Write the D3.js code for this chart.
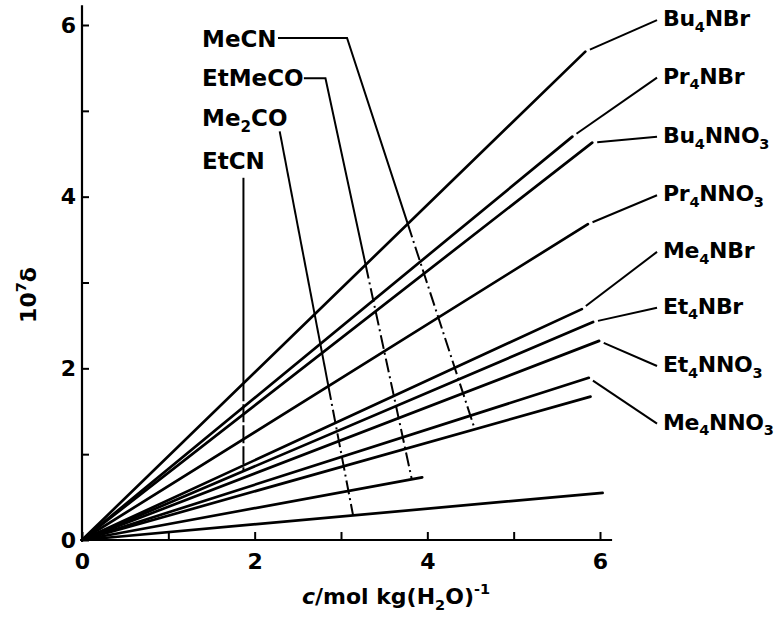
<!DOCTYPE html>
<html>
<head>
<meta charset="utf-8">
<script src="https://cdn.jsdelivr.net/npm/d3@7"></script>
<style>
  body { margin: 0; background: #fff; }
  text { font-family: "DejaVu Sans", sans-serif; font-weight: bold; fill: #000; }
</style>
</head>
<body>
<svg id="canvas"></svg>
<script>
let width = 779
let height = 619

// electrolyte lines (end point of each straight line from the origin)
let saltNames  = ['Bu_4NBr', 'Pr_4NBr', 'Bu_4NNO_3', 'Pr_4NNO_3', 'Me_4NBr', 'Et_4NBr', 'Et_4NNO_3', 'Me_4NNO_3', '', '', '']
let saltEndX   = [5.83, 5.68, 5.91, 5.86, 5.79, 5.92, 5.99, 5.87, 5.89, 6.03, 3.94]
let saltEndY   = [5.69, 4.70, 4.63, 3.68, 2.69, 2.54, 2.32, 1.89, 1.67, 0.55, 0.73]
let saltLabelY = [6.08, 5.41, 4.72, 4.04, 3.38, 2.73, 2.05, 1.38]
let saltLabelX = 6.73

// solvent lines
let solventNames  = ['MeCN', 'EtMeCO', 'Me_2CO', 'EtCN']
let solventLabelY = [5.84, 5.38, 4.92, 4.42]
let solventLabelX = 1.39
let solventStartX = [2.27, 2.57, 2.29, 1.87]
let solventStartY = [5.85, 5.38, 4.76, 4.22]
let solventElbowX = [3.07, 2.82, null, null]
let solventEndX   = [4.55, 3.82, 3.14, 1.87]
let solventEndOn  = [8, 10, 9, 5]   // index of the electrolyte line it ends on
let solventDashFrom = [0, 0, 3, 0]  // electrolyte line where the dashes begin

let tickValues = [0, 1, 2, 3, 4, 5, 6]

let canvas = d3.select('#canvas')
               .attr('width', width)
               .attr('height', height)

let xScale = d3.scaleLinear().domain([0, 6]).range([82, 600])
let yScale = d3.scaleLinear().domain([0, 6]).range([540, 25])

let line = d3.line()
             .x(d => xScale(d[0]))
             .y(d => yScale(d[1]))

// text with _x subscripts and ^x superscripts
let richText = (sel, str, size) => {
  let parts = str.split(/(_\d|\^-?\d)/).filter(p => p !== '')
  let shift = 0
  parts.forEach(p => {
    let target = 0
    let fs = size
    let t = p
    if (p[0] === '_') { target = size * 0.26; fs = size * 0.66; t = p.slice(1) }
    if (p[0] === '^') { target = -size * 0.45; fs = size * 0.66; t = p.slice(1) }
    sel.append('tspan')
       .attr('font-size', fs)
       .attr('dy', target - shift)
       .text(t)
    shift = target
  })
}

let drawAxes = () => {
  let xAxis = d3.axisBottom(xScale)
                .tickValues(tickValues)
                .tickSize(-8)
                .tickPadding(13)
                .tickFormat(d => d % 2 === 0 ? d : '')

  let yAxis = d3.axisLeft(yScale)
                .tickValues(tickValues)
                .tickSize(-7)
                .tickPadding(6)
                .tickFormat(d => d % 2 === 0 ? d : '')

  let gx = canvas.append('g')
        .attr('transform', `translate(0, ${yScale(0)})`)
        .call(xAxis)
  let gy = canvas.append('g')
        .attr('transform', `translate(${xScale(0)}, 0)`)
        .call(yAxis)

  ;[gx, gy].forEach(g => {
    g.select('.domain').remove()
    g.selectAll('line').attr('stroke', '#000').attr('stroke-width', 2)
    g.selectAll('text')
     .attr('font-family', '"DejaVu Sans", sans-serif')
     .attr('font-weight', 'bold')
     .attr('font-size', 22)
  })

  canvas.append('line')
        .attr('x1', xScale(0)).attr('y1', yScale(0))
        .attr('x2', xScale(6.14)).attr('y2', yScale(0))
        .attr('stroke', '#000').attr('stroke-width', 2.2)
  canvas.append('line')
        .attr('x1', xScale(0)).attr('y1', yScale(0))
        .attr('x2', xScale(0)).attr('y2', yScale(6.23))
        .attr('stroke', '#000').attr('stroke-width', 2.2)

  let xl = canvas.append('text')
        .attr('x', 396).attr('y', 604)
        .attr('text-anchor', 'middle')
        .attr('font-size', 22)
  xl.append('tspan').attr('font-style', 'italic').text('c')
  richText(xl, '/mol kg(H_2O)^-1', 22)

  let yl = canvas.append('text')
        .attr('transform', 'translate(36, 295) rotate(-90)')
        .attr('text-anchor', 'middle')
        .attr('font-size', 22)
  richText(yl, '10^7δ', 22)
}

let drawSalts = () => {
  canvas.selectAll('.salt')
        .data(saltEndX)
        .enter()
        .append('path')
        .attr('class', 'salt')
        .attr('d', (d, i) => line([[0, 0], [d, saltEndY[i]]]))
        .attr('fill', 'none')
        .attr('stroke', '#000')
        .attr('stroke-width', 2.7)
        .attr('stroke-linecap', 'round')

  saltLabelY.forEach((ly, i) => {
    let ex = xScale(saltEndX[i]), ey = yScale(saltEndY[i])
    let lx = xScale(saltLabelX) - 6, lyy = yScale(ly) + 2
    let dx = lx - ex, dy = lyy - ey
    let len = Math.sqrt(dx * dx + dy * dy)
    canvas.append('line')
          .attr('x1', ex + dx / len * 5).attr('y1', ey + dy / len * 5)
          .attr('x2', lx).attr('y2', lyy)
          .attr('stroke', '#000').attr('stroke-width', 2)
    let t = canvas.append('text')
          .attr('x', xScale(saltLabelX))
          .attr('y', yScale(ly) + 8)
          .attr('font-size', 22)
          .attr('letter-spacing', -0.3)
    richText(t, saltNames[i], 22)
  })
}

let drawSolvents = () => {
  solventNames.forEach((name, i) => {
    let s0 = saltEndY[solventDashFrom[i]] / saltEndX[solventDashFrom[i]]
    let k = solventEndOn[i]
    let endX = solventEndX[i]
    let endY = saltEndY[k] / saltEndX[k] * endX
    let start = [solventStartX[i], solventStartY[i]]
    let pts = [start]
    if (solventElbowX[i] !== null) pts.push([solventElbowX[i], solventStartY[i]])
    let e = pts[pts.length - 1]
    let t = (s0 * e[0] - e[1]) / ((endY - e[1]) - s0 * (endX - e[0]))
    let cross = [e[0] + t * (endX - e[0]), e[1] + t * (endY - e[1])]
    pts.push(cross)

    canvas.append('path')
          .attr('d', line(pts))
          .attr('fill', 'none')
          .attr('stroke', '#000')
          .attr('stroke-width', 2)
    canvas.append('path')
          .attr('d', line([cross, [endX, endY]]))
          .attr('fill', 'none')
          .attr('stroke', '#000')
          .attr('stroke-width', 2)
          .attr('stroke-dasharray', i === 3 ? '18,3' : '14,4,2,4')

    let tx = canvas.append('text')
          .attr('x', xScale(solventLabelX))
          .attr('y', yScale(solventLabelY[i]) + 8)
          .attr('font-size', 23)
    richText(tx, name, 23)
  })
}

drawAxes()
drawSalts()
drawSolvents()
</script>
</body>
</html>
